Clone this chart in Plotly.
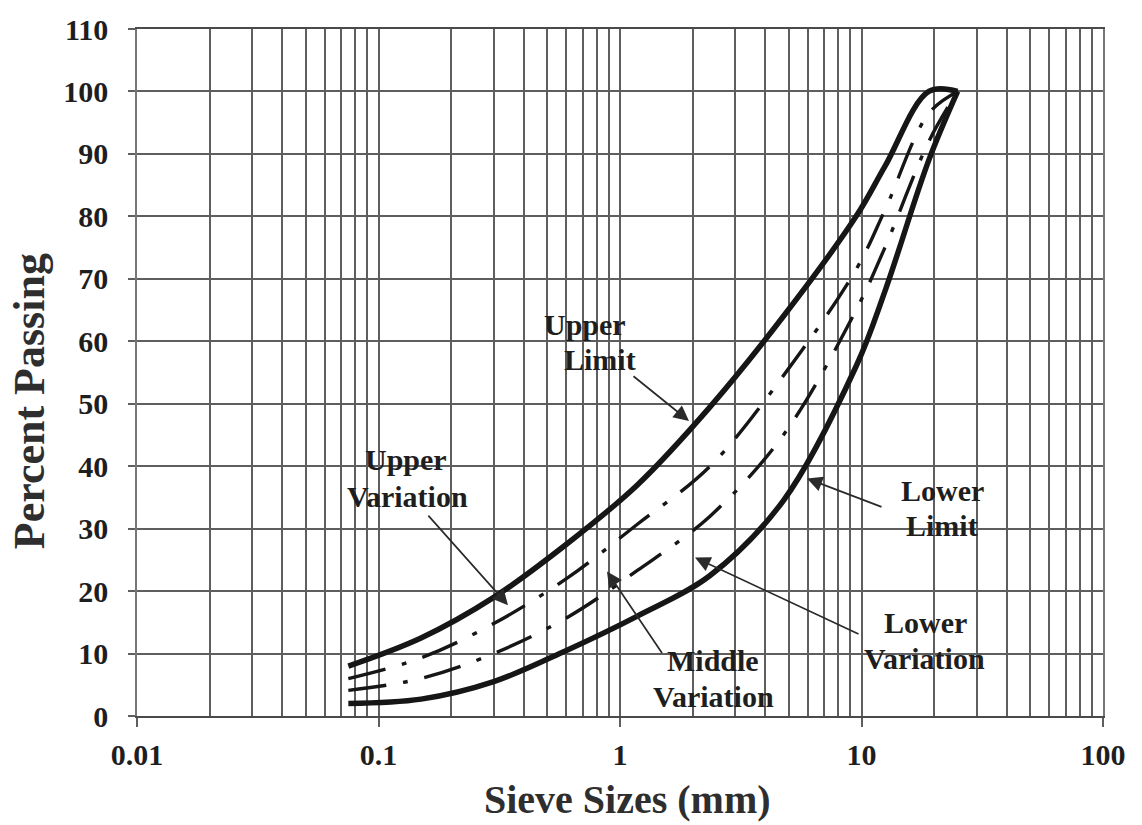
import plotly.graph_objects as go

# ---------------- data ----------------
sieve_mm = [0.075, 0.15, 0.3, 0.6, 1.18, 2.36, 4.75, 9.5, 12.5, 19, 25]
upper_limit = [8, 12.5, 19, 27.5, 37, 49.5, 64, 80, 88, 100, 100]
upper_variation = [6, 9.3, 14.8, 22, 30.7, 40, 54.5, 71.5, 81, 96.5, 100]
lower_variation = [4.1, 6, 10, 15.7, 23.3, 32, 45, 65, 75, 92, 100]
lower_limit = [2, 2.7, 5.5, 10.5, 16, 22.5, 34.5, 56, 68, 89, 100]

x_tick_vals = [0.01, 0.1, 1, 10, 100]
x_tick_text = ["0.01", "0.1", "1", "10", "100"]
y_tick_vals = list(range(0, 111, 10))

# ---------------- layout constants (pixels) ----------------
W, H = 1142, 825
L, R, T, B = 137, 39, 22, 109
PW, PH = W - L - R, H - T - B

def px(xp):
    return (xp - L) / PW

def py(yp):
    return (H - B - yp) / PH

FONT = "Liberation Serif"
GRID = "#5e5e5e"
INK = "#161616"

fig = go.Figure()

fig.add_trace(go.Scatter(x=sieve_mm, y=upper_limit, mode="lines", name="Upper Limit",
                         line=dict(color=INK, width=5.5, shape="spline", smoothing=1.0)))
fig.add_trace(go.Scatter(x=sieve_mm, y=lower_limit, mode="lines", name="Lower Limit",
                         line=dict(color=INK, width=5.5, shape="spline", smoothing=1.0)))
fig.add_trace(go.Scatter(x=sieve_mm, y=upper_variation, mode="lines", name="Upper Variation",
                         line=dict(color=INK, width=3.4, shape="spline", smoothing=1.0,
                                   dash="38px,17px,5px,17px")))
fig.add_trace(go.Scatter(x=sieve_mm, y=lower_variation, mode="lines", name="Lower Variation",
                         line=dict(color=INK, width=3.4, shape="spline", smoothing=1.0,
                                   dash="38px,17px,5px,17px")))

annots = []
# text labels (center positions in pixels)
labels = [
    ("Upper", 585, 321), ("Limit", 600, 356),
    ("Upper", 406, 457), ("Variation", 407, 494),
    ("Middle", 713, 660), ("Variation", 713, 696),
    ("Lower", 925, 622), ("Variation", 924, 658),
    ("Lower", 942, 488), ("Limit", 942, 524),
]
for txt, xp, yp in labels:
    annots.append(dict(text=txt, xref="paper", yref="paper", x=px(xp), y=py(yp),
                       xanchor="center", yanchor="middle", showarrow=False,
                       font=dict(family=FONT, size=30, color="#1e1e1e", weight="bold")))

# arrows: (tail_x, tail_y, tip_x, tip_y) in pixels
arrows = [
    (632, 372, 689, 418),
    (427, 513, 508, 604),
    (663, 653, 607, 570),
    (860, 633, 695, 556),
    (883, 505, 807, 476),
]
for tx, ty, hx, hy in arrows:
    annots.append(dict(text="", xref="paper", yref="paper", x=px(hx), y=py(hy),
                       ax=tx - hx, ay=ty - hy, axref="pixel", ayref="pixel",
                       showarrow=True, arrowhead=2, arrowsize=1.8, arrowwidth=1.7,
                       arrowcolor="#2a2a2a"))

# axis titles
annots.append(dict(text="Percent Passing", xref="paper", yref="paper", x=px(29), y=py(398),
                   textangle=-90, showarrow=False, xanchor="center", yanchor="middle",
                   font=dict(family=FONT, size=44, color="#2e2e2e", weight="bold")))
annots.append(dict(text="Sieve Sizes (mm)", xref="paper", yref="paper", x=px(627), y=py(800),
                   showarrow=False, xanchor="center", yanchor="middle",
                   font=dict(family=FONT, size=40, color="#2e2e2e", weight="bold")))

fig.update_layout(
    width=W, height=H,
    margin=dict(l=L, r=R, t=T, b=B),
    plot_bgcolor="white", paper_bgcolor="white",
    showlegend=False,
    font=dict(family=FONT, color="#1e1e1e"),
    annotations=annots,
    xaxis=dict(type="log", range=[-2, 2], tickvals=x_tick_vals, ticktext=x_tick_text,
               showgrid=True, gridcolor=GRID, gridwidth=1.6,
               minor=dict(dtick="D1", showgrid=True, gridcolor=GRID, gridwidth=1.6, ticks=""),
               ticks="outside", ticklen=9, tickcolor=GRID, tickwidth=1.6,
               showline=True, linecolor="#4a4a4a", linewidth=2, mirror=True,
               ticklabelstandoff=2,
               tickfont=dict(family=FONT, size=30, color="#1e1e1e", weight="bold"),
               zeroline=False),
    yaxis=dict(range=[0, 110], tickvals=y_tick_vals,
               showgrid=True, gridcolor=GRID, gridwidth=1.6,
               ticks="outside", ticklen=7, tickcolor=GRID, tickwidth=1.6,
               showline=True, linecolor="#777777", linewidth=1.5, mirror=True,
               ticklabelstandoff=14,
               tickfont=dict(family=FONT, size=30, color="#1e1e1e", weight="bold"),
               zeroline=False),
)

fig.write_html("out.html")
